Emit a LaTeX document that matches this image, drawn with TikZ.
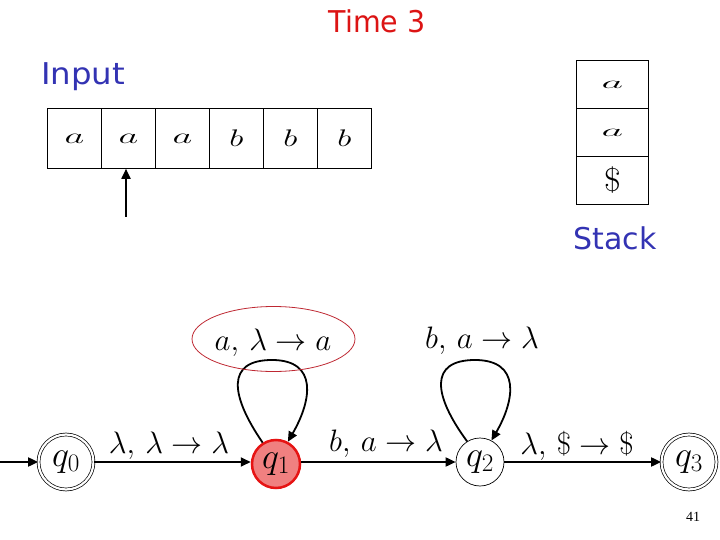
\RequirePackage{fix-cm}
\documentclass[tikz,border=0pt]{standalone}
\usepackage{fontspec}
\usetikzlibrary{arrows.meta}
\newfontfamily\casualfont{DejaVu Sans}
\newfontfamily\timesfont{Liberation Serif}
\definecolor{tblue}{RGB}{51,51,179}
\definecolor{tred}{RGB}{220,20,20}
\definecolor{qfill}{RGB}{240,128,128}
\definecolor{qborder}{RGB}{230,20,20}
\definecolor{ellred}{RGB}{190,40,50}
\begin{document}
\begin{tikzpicture}[x=1pt,y=-1pt,
  cell/.style={draw, line width=0.8pt, minimum width=54pt, minimum height=60pt, inner sep=0pt, anchor=north west, font=\fontsize{24}{24}\selectfont},
  scell/.style={draw, line width=0.8pt, minimum width=72pt, minimum height=48pt, inner sep=0pt, anchor=north west, font=\fontsize{28}{28}\selectfont},
  state/.style={circle, draw, line width=0.7pt, minimum size=48pt, inner sep=0pt, font=\fontsize{36}{36}\selectfont},
  accept/.style={state, double, double distance=2.2pt, minimum size=55pt},
  cur/.style={state, fill=qfill, draw=qborder, line width=2.5pt, minimum size=48pt},
  edge/.style={line width=1.8pt, -{Triangle[length=10pt,width=9pt]}},
  lbl/.style={font=\fontsize{31}{31}\selectfont, inner sep=0pt},
  heading/.style={font=\casualfont\fontsize{30}{30}\selectfont, inner sep=0pt},
]
\useasboundingbox (0,0) rectangle (720,540);

% title and labels
\node[heading, text=tred] (title) at (377,21) {\scalebox{0.95}[1]{Time 3}};
\node[heading, text=tblue, anchor=west] (inlbl) at (41,77) {\scalebox{1.08}[1]{Input}};
\node[heading, text=tblue] (stlbl) at (615,238) {Stack};

% input tape
\node[cell] (c1) at (47,108) {\scalebox{1.6}[0.9]{$a$}};
\node[cell] (c2) at (101,108) {\scalebox{1.6}[0.9]{$a$}};
\node[cell] (c3) at (155,108) {\scalebox{1.6}[0.9]{$a$}};
\node[cell] (c4) at (209,108) {\scalebox{1.4}[1]{$b$}};
\node[cell] (c5) at (263,108) {\scalebox{1.4}[1]{$b$}};
\node[cell] (c6) at (317,108) {\scalebox{1.4}[1]{$b$}};

% input pointer
\coordinate (ptr) at (126,217);
\draw[edge] (ptr) -- (ptr |- c2.south);

% stack
\node[scell] (s1) at (576,60) {\scalebox{1.5}[0.6]{$a$}};
\node[scell] (s2) at (576,108) {\scalebox{1.5}[0.6]{$a$}};
\node[scell, font=\fontsize{33}{33}\selectfont] (s3) at (576,156) {\scalebox{1.1}[1]{\$}};

% states
\node[accept] (q0) at (66,462) {$q_0$};
\node[cur] (q1) at (276,464) {$q_1$};
\node[state] (q2) at (480,462) {$q_2$};
\node[accept] (q3) at (689,462) {$q_3$};

\coordinate (start) at (0,462);
\draw[edge] (start) -- (q0);
\draw[edge] (q0) -- (q0 -| q1.west);
\draw[edge] (q1.east |- q2) -- (q2);
\draw[edge] (q2) -- (q3);

% loops
\draw[edge] (q1.122) .. controls (230,395) and (226,360) .. (272,360)
  .. controls (318,360) and (312,400) .. (q1.62);
\draw[edge] (q2.122) .. controls (433,395) and (429,360) .. (475,360)
  .. controls (521,360) and (515,400) .. (q2.62);

% edge labels
\node[lbl] (e01) at (169,446) {$\lambda,\,\lambda\rightarrow\lambda$};
\node[lbl] (e12) at (386,444) {$b,\,a\rightarrow\lambda$};
\node[lbl] (e23) at (577,446) {$\lambda,\,\$\rightarrow\$$};
\node[lbl] (l1) at (273,343) {$a,\,\lambda\rightarrow a$};
\node[lbl] (l2) at (482,341) {$b,\,a\rightarrow\lambda$};

\draw[ellred, line width=0.8pt] (273.5,339) ellipse [x radius=81.5, y radius=32.5];

% page number
\node[font=\timesfont\fontsize{14}{14}\selectfont, inner sep=0pt] (pg) at (693,517) {41};
\end{tikzpicture}
\end{document}
